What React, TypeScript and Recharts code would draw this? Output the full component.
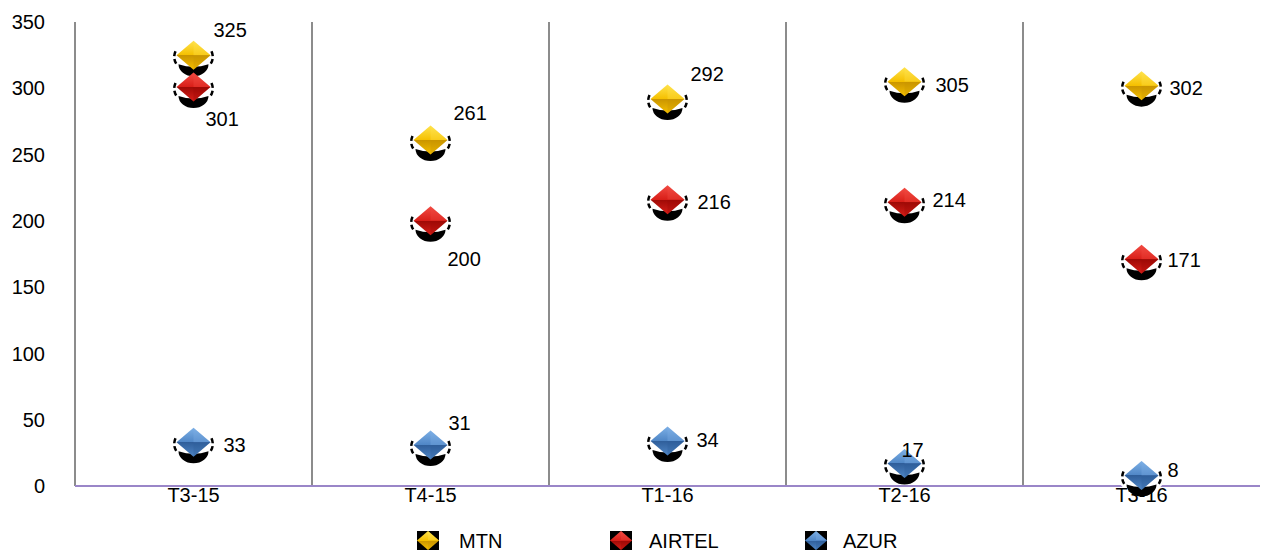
import React from "react";
import { ComposedChart, Line, XAxis, YAxis, CartesianGrid, LabelList, Legend } from "recharts";

const categories = ["T3-15", "T4-15", "T1-16", "T2-16", "T3-16"];
const mtn = [325, 261, 292, 305, 302];
const airtel = [301, 200, 216, 214, 171];
const azur = [33, 31, 34, 17, 8];
const yTicks = [0, 50, 100, 150, 200, 250, 300, 350];

// label offsets relative to each point (text start, vertical centre)
const mtnLabelOffsets = [[20, -25], [23, -27], [23, -25], [31, 3], [28, 2]];
const airtelLabelOffsets = [[12, 32], [17, 38], [30, 2], [28, -2], [26, 1]];
const azurLabelOffsets = [[30, 3], [18, -22], [29, -1], [-3, -13], [26, -5]];

const data = categories.map((c, i) => ({ cat: c, MTN: mtn[i], AIRTEL: airtel[i], AZUR: azur[i] }));

const COLORS: Record<string, { light: string; mid: string; dark: string }> = {
  MTN: { light: "#FFE34D", mid: "#F5C000", dark: "#C99400" },
  AIRTEL: { light: "#F24B43", mid: "#D81E18", dark: "#9E0A06" },
  AZUR: { light: "#7DB0E6", mid: "#4F86C6", dark: "#2F5E9A" },
};

const FONT = "'Liberation Sans', Arial, sans-serif";
const FS = 20;
const PLOT_W = 1185;
const HALF_BAND = PLOT_W / categories.length / 2;

const legendItems = [
  { name: "MTN", x: 428, tx: 459 },
  { name: "AIRTEL", x: 621, tx: 649 },
  { name: "AZUR", x: 816, tx: 843 },
];

function Diamond({ cx, cy, name, hw = 17, hh = 14.5 }: any) {
  const c = COLORS[name];
  const id = `g-${name}`;
  return (
    <g>
      <defs>
        <linearGradient id={id} x1="0" y1="0" x2="0" y2="1">
          <stop offset="0" stopColor={c.light} />
          <stop offset="0.5" stopColor={c.mid} />
          <stop offset="0.5" stopColor={c.dark} />
          <stop offset="1" stopColor={c.mid} />
        </linearGradient>
      </defs>
      <path d={`M${cx},${cy - hh} L${cx + hw},${cy} L${cx},${cy + hh} L${cx - hw},${cy} Z`} fill={`url(#${id})`} />
      <path d={`M${cx},${cy - hh} L${cx + hw},${cy} L${cx},${cy} Z`} fill={c.light} opacity={0.35} />
      <path d={`M${cx},${cy} L${cx + hw},${cy} L${cx},${cy + hh} Z`} fill={c.dark} opacity={0.35} />
    </g>
  );
}

function MarkerDot(props: any) {
  const { cx, cy, dataKey } = props;
  if (cx == null || cy == null) return null;
  return (
    <g key={`${dataKey}-${cx}`}>
      <ellipse cx={cx} cy={cy + 4} rx={22} ry={15} fill="#fff" />
      <path
        d={`M${cx - 15},${cy + 9} Q${cx},${cy + 14} ${cx + 15},${cy + 9} A15 12 0 0 1 ${cx - 15} ${cy + 9} Z`}
        fill="#000"
      />
      <path d={`M${cx - 18},${cy - 4} Q${cx - 21},${cy + 3} ${cx - 17},${cy + 9}`} stroke="#000" strokeWidth={2.5} fill="none" strokeDasharray="5 3" />
      <path d={`M${cx + 18},${cy - 4} Q${cx + 21},${cy + 3} ${cx + 17},${cy + 9}`} stroke="#000" strokeWidth={2.5} fill="none" strokeDasharray="5 3" />
      <Diamond cx={cx} cy={cy} name={dataKey} />
    </g>
  );
}

function makeLabel(offsets: number[][]) {
  return (props: any) => {
    const { x, y, value, index } = props;
    const [dx, dy] = offsets[index];
    return (
      <text x={x + dx} y={y + dy} dy="0.35em" textAnchor="start" fontFamily={FONT} fontSize={FS} fill="#000">
        {value}
      </text>
    );
  };
}

function LegendContent() {
  return (
    <svg width={1262} height={26} style={{ display: "block" }}>
      {legendItems.map((it) => (
        <g key={it.name}>
          <rect x={it.x - 11} y={3} width={22} height={19} fill="#000" />
          <Diamond cx={it.x} cy={12.5} name={it.name} hw={11} hh={9.5} />
          <text x={it.tx} y={13} dy="0.35em" fontFamily={FONT} fontSize={FS} fill="#000">
            {it.name}
          </text>
        </g>
      ))}
    </svg>
  );
}

export default function App() {
  return (
    <div style={{ position: "absolute", left: 0, top: 0, width: 1262, height: 557, background: "#fff" }}>
      <ComposedChart width={1262} height={557} data={data} margin={{ top: 22, right: 2, bottom: 0, left: 0 }}>
        <CartesianGrid
          horizontal={false}
          stroke="#8C8C8C"
          strokeWidth={2}
          verticalCoordinatesGenerator={({ offset }: any) =>
            [1, 2, 3, 4].map((i) => offset.left + (offset.width * i) / categories.length)
          }
        />
        <YAxis
          width={75}
          domain={[0, 350]}
          ticks={yTicks}
          interval={0}
          tickLine={false}
          tickMargin={24}
          axisLine={{ stroke: "#8C8C8C", strokeWidth: 2 }}
          tick={{ fill: "#000", fontSize: FS, fontFamily: FONT }}
        />
        <Legend
          layout="horizontal"
          verticalAlign="middle"
          align="center"
          wrapperStyle={{ top: 528, left: 0, width: 1262, height: 26 }}
          content={() => <LegendContent />}
        />
        <Line dataKey="MTN" stroke="none" isAnimationActive={false} dot={<MarkerDot />} activeDot={false}>
          <LabelList dataKey="MTN" content={makeLabel(mtnLabelOffsets)} />
        </Line>
        <Line dataKey="AIRTEL" stroke="none" isAnimationActive={false} dot={<MarkerDot />} activeDot={false}>
          <LabelList dataKey="AIRTEL" content={makeLabel(airtelLabelOffsets)} />
        </Line>
        <Line dataKey="AZUR" stroke="none" isAnimationActive={false} dot={<MarkerDot />} activeDot={false}>
          <LabelList dataKey="AZUR" content={makeLabel(azurLabelOffsets)} />
        </Line>
        <XAxis
          dataKey="cat"
          height={71}
          padding={{ left: HALF_BAND, right: HALF_BAND }}
          tickLine={false}
          tickSize={0}
          tickMargin={2}
          axisLine={{ stroke: "#9A86C8", strokeWidth: 2 }}
          tick={{ fill: "#000", fontSize: FS, fontFamily: FONT }}
        />
      </ComposedChart>
    </div>
  );
}
